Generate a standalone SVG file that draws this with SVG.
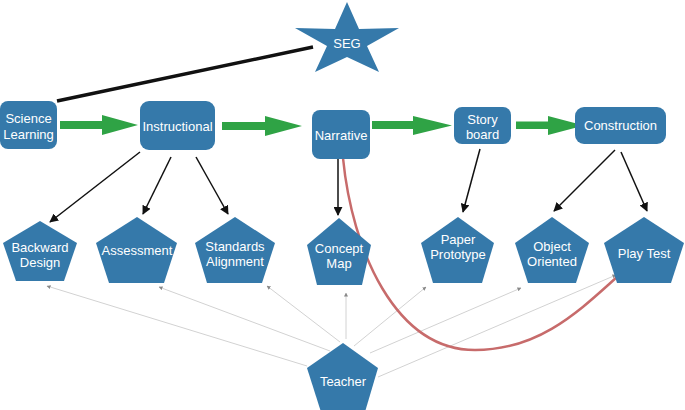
<svg xmlns="http://www.w3.org/2000/svg" width="685" height="410" viewBox="0 0 685 410">
<defs>
<style>
.n{fill:#3579aa;}
.t{fill:#fff;font-family:"Liberation Sans",Arial,sans-serif;font-size:13px;text-anchor:middle;}
.g{fill:#2fa345;}
.blk{stroke:#111;stroke-width:1.5;fill:none;marker-end:url(#ab);}
.gr{stroke:#d2d2d2;stroke-width:1;fill:none;marker-end:url(#ag);}
</style>
<marker id="ab" viewBox="0 0 10 10" refX="9" refY="5" markerWidth="6" markerHeight="6" orient="auto" markerUnits="strokeWidth">
<path d="M0,0 L10,5 L0,10 z" fill="#111"/>
</marker>
<marker id="ag" viewBox="0 0 10 10" refX="9" refY="5" markerWidth="4" markerHeight="4" orient="auto" markerUnits="strokeWidth">
<path d="M0,0 L10,5 L0,10 z" fill="#888"/>
</marker>
</defs>
<rect width="685" height="410" fill="#fff"/>

<g id="connectors">
<line x1="57" y1="101" x2="313" y2="47" stroke="#111" stroke-width="3.5"/>
<polygon class="g" points="60,121 102,121 102,115 138,125 102,135 102,129 60,129"/>
<polygon class="g" points="222,122 265,122 265,116 302,126 265,136 265,130 222,130"/>
<polygon class="g" points="372,121 413,121 413,116 452,125.5 413,135 413,129 372,129"/>
<polygon class="g" points="516,121.5 548,121.5 548,116 584,125.5 548,135 548,129 516,129"/>
<line class="blk" x1="140" y1="152" x2="50" y2="222"/>
<line class="blk" x1="171" y1="157" x2="143" y2="214"/>
<line class="blk" x1="196" y1="157" x2="228" y2="214"/>
<line class="blk" x1="338" y1="159" x2="338" y2="215"/>
<line class="blk" x1="480" y1="149" x2="463" y2="212"/>
<line class="blk" x1="615" y1="150" x2="554" y2="211"/>
<line class="blk" x1="621" y1="152" x2="647" y2="211"/>
<line class="gr" x1="307" y1="366" x2="47" y2="286"/>
<line class="gr" x1="330" y1="351" x2="159" y2="287"/>
<line class="gr" x1="340" y1="342" x2="267" y2="286"/>
<line class="gr" x1="346" y1="339" x2="346" y2="293"/>
<line class="gr" x1="354" y1="346" x2="426" y2="287"/>
<line class="gr" x1="370" y1="353" x2="521" y2="288"/>
<line class="gr" x1="378" y1="377" x2="616" y2="275"/>
<path d="M343,158 C352,250 395,350 475,350 C540,350 580,310 617,277" fill="none" stroke="#c76b6b" stroke-width="2.5"/>
</g>

<g id="seg">
<polygon class="n" points="347,2 359,29 399,28 367,46 379,72 347,57 315,72 327,46 295,28 335,29"/>
<text class="t" x="347" y="47.5">SEG</text>
</g>
<g id="science-learning">
<rect class="n" x="0" y="101" width="57" height="48" rx="8"/>
<text class="t" x="28.5" y="122.5">Science</text>
<text class="t" x="28.5" y="138.5">Learning</text>
</g>
<g id="instructional">
<rect class="n" x="140" y="101" width="75" height="49" rx="9"/>
<text class="t" x="177.5" y="130.5">Instructional</text>
</g>
<g id="narrative">
<rect class="n" x="312" y="110" width="58" height="49" rx="8"/>
<text class="t" x="341" y="140">Narrative</text>
</g>
<g id="storyboard">
<rect class="n" x="454" y="107" width="57" height="37" rx="8"/>
<text class="t" x="482.5" y="123.5">Story</text>
<text class="t" x="482.5" y="138.5">board</text>
</g>
<g id="construction">
<rect class="n" x="575" y="107" width="91" height="37" rx="9"/>
<text class="t" x="620.5" y="130">Construction</text>
</g>

<g id="backward-design">
<polygon class="n" points="40,221 77,243 64,281 16,281 3,243"/>
<text class="t" x="40" y="252">Backward</text>
<text class="t" x="40" y="267">Design</text>
</g>
<g id="assessment">
<polygon class="n" points="137,217 177,243 164,283 109,283 96,243"/>
<text class="t" x="137" y="255">Assessment</text>
</g>
<g id="standards-alignment">
<polygon class="n" points="235,217 275,243 262,283 207,283 195,243"/>
<text class="t" x="235" y="251">Standards</text>
<text class="t" x="235" y="266">Alignment</text>
</g>
<g id="concept-map">
<polygon class="n" points="339,218 371,245 362,285 317,285 307,245"/>
<text class="t" x="339" y="253">Concept</text>
<text class="t" x="339" y="268">Map</text>
</g>
<g id="paper-prototype">
<polygon class="n" points="458,217 494,243 482,283 433,283 421,243"/>
<text class="t" x="458" y="244">Paper</text>
<text class="t" x="458" y="259">Prototype</text>
</g>
<g id="object-oriented">
<polygon class="n" points="552,217 589,243 576,283 528,283 515,243"/>
<text class="t" x="552" y="251">Object</text>
<text class="t" x="552" y="266">Oriented</text>
</g>
<g id="play-test">
<polygon class="n" points="644,217 684,243 671,283 617,283 604,243"/>
<text class="t" x="644" y="258">Play Test</text>
</g>
<g id="teacher">
<polygon class="n" points="343,343 378,368 365,412 321,412 307,368"/>
<text class="t" x="343" y="385.5">Teacher</text>
</g>
</svg>
